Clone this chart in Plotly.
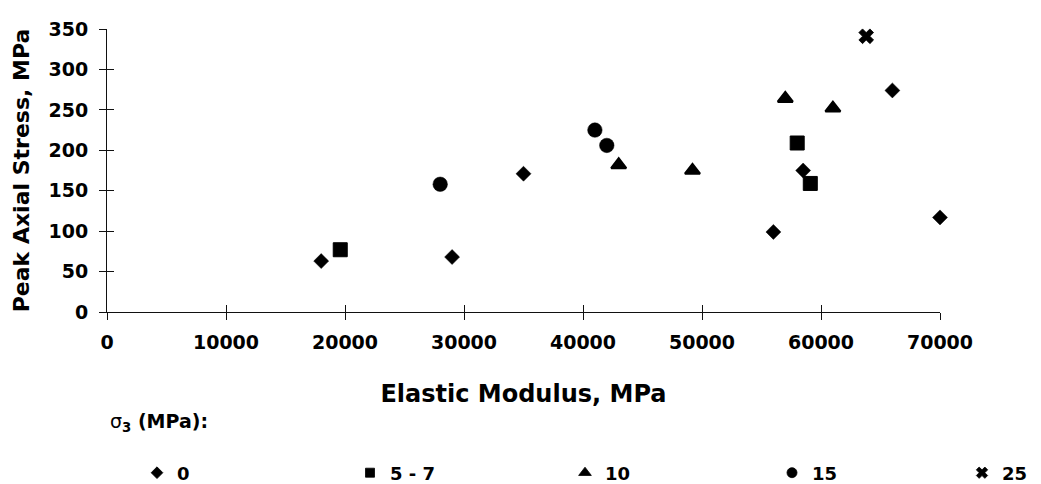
import plotly.graph_objects as go

# ---- data ----
s0_x = [18000, 29000, 35000, 56000, 58500, 66000, 70000]
s0_y = [63, 68, 171, 99, 175, 274, 117]

s57_x = [19600, 58000, 59100]
s57_y = [77, 209, 159]

s10_x = [43000, 49200, 57000, 61000]
s10_y = [182, 175, 264, 252]

s15_x = [28000, 41000, 42000]
s15_y = [158, 225, 206]

s25_x = [63800]
s25_y = [341]

series_names = ["0", "5 - 7", "10", "15", "25"]
x_ticks = [0, 10000, 20000, 30000, 40000, 50000, 60000, 70000]
y_ticks = [0, 50, 100, 150, 200, 250, 300, 350]

FONT = "DejaVu Sans, Liberation Sans, Arial, sans-serif"
BLACK = "#000000"
AXC = "#111111"

W, H = 1041, 484

# symbol, size, line width
series = [
    (s0_x, s0_y, "diamond", 11.5, 0.5),
    (s57_x, s57_y, "square", 14, 1),
    (s10_x, s10_y, "triangle-up", 13, 2.2),
    (s15_x, s15_y, "circle", 14.5, 0.5),
    (s25_x, s25_y, "x", 13, 0.8),
]
legend_sizes = [9, 9, 11, 10, 10]
legend_syms = ["diamond", "square", "triangle-up", "circle", "x"]
legend_left_px = [137, 350, 565, 772, 962]

fig = go.Figure()
for (xs, ys, sym, size, lw), name in zip(series, series_names):
    fig.add_trace(go.Scatter(
        x=xs, y=ys, mode="markers", name=name, showlegend=False,
        cliponaxis=False,
        marker=dict(symbol=sym, size=size, color=BLACK,
                    line=dict(color=BLACK, width=lw)),
    ))

legend_font = dict(family=FONT, size=18, color=BLACK, weight="bold")
legends = {}
for i, (name, ls, lsym, lx) in enumerate(zip(series_names, legend_sizes,
                                             legend_syms, legend_left_px)):
    key = "legend" if i == 0 else f"legend{i + 1}"
    fig.add_trace(go.Scatter(
        x=[None], y=[None], mode="markers", name=name, showlegend=True,
        legend=key, xaxis="x2", yaxis="y2",
        marker=dict(symbol=lsym, size=ls, color=BLACK,
                    line=dict(color=BLACK, width=0.8)),
    ))
    legends[key] = dict(
        orientation="h", xref="container", yref="container",
        x=lx / W, xanchor="left", y=1 - 473 / H, yanchor="middle",
        font=legend_font, bgcolor="rgba(0,0,0,0)", borderwidth=0,
        itemwidth=30,
    )

tickfont = dict(family=FONT, size=19, color=BLACK, weight="bold")

fig.update_layout(
    width=W, height=H,
    margin=dict(l=107, r=101, t=29, b=172),
    paper_bgcolor="white", plot_bgcolor="white",
    font=dict(family=FONT, color=BLACK),
    showlegend=True,
    xaxis=dict(
        range=[0, 70000], tickvals=x_ticks, ticktext=[str(v) for v in x_ticks],
        showgrid=False, zeroline=False, showline=True, linecolor=AXC,
        linewidth=1, ticks="outside", ticklen=7, tickcolor=AXC,
        tickfont=tickfont, ticklabelstandoff=6, automargin=False,
        title=dict(text="Elastic Modulus, MPa", standoff=33,
                   font=dict(family=FONT, size=24, color=BLACK, weight="bold")),
    ),
    yaxis=dict(
        range=[0, 350], tickvals=y_ticks, ticktext=[str(v) for v in y_ticks],
        showgrid=False, zeroline=False, showline=True, linecolor=AXC,
        linewidth=1, ticks="outside", ticklen=7, tickcolor=AXC,
        tickfont=tickfont, ticklabelstandoff=7, automargin=False,
        title=dict(text="Peak Axial Stress, MPa", standoff=12,
                   font=dict(family=FONT, size=22, color=BLACK, weight="bold")),
    ),
    xaxis2=dict(
        range=[0, 70000], tickvals=x_ticks, showticklabels=False,
        overlaying="x", anchor="y2", showgrid=False, zeroline=False,
        showline=False, ticks="inside", ticklen=7, tickcolor=AXC,
        automargin=False,
    ),
    yaxis2=dict(
        range=[0, 350], tickvals=y_ticks, showticklabels=False,
        overlaying="y", anchor="x2", showgrid=False, zeroline=False,
        showline=False, ticks="inside", ticklen=7, tickcolor=AXC,
        automargin=False,
    ),
    annotations=[dict(
        text="σ<b><sub>3</sub> (MPa):</b>", xref="paper", yref="paper",
        x=(108 - 107) / 833, y=(312 - 422) / 283, xanchor="left",
        yanchor="middle", showarrow=False,
        font=dict(family=FONT, size=19, color=BLACK),
    )],
    **legends,
)

fig.write_html(
    "out.html",
    config={"displayModeBar": False},
    post_script="document.body.style.margin='0';document.body.style.padding='0';",
)
